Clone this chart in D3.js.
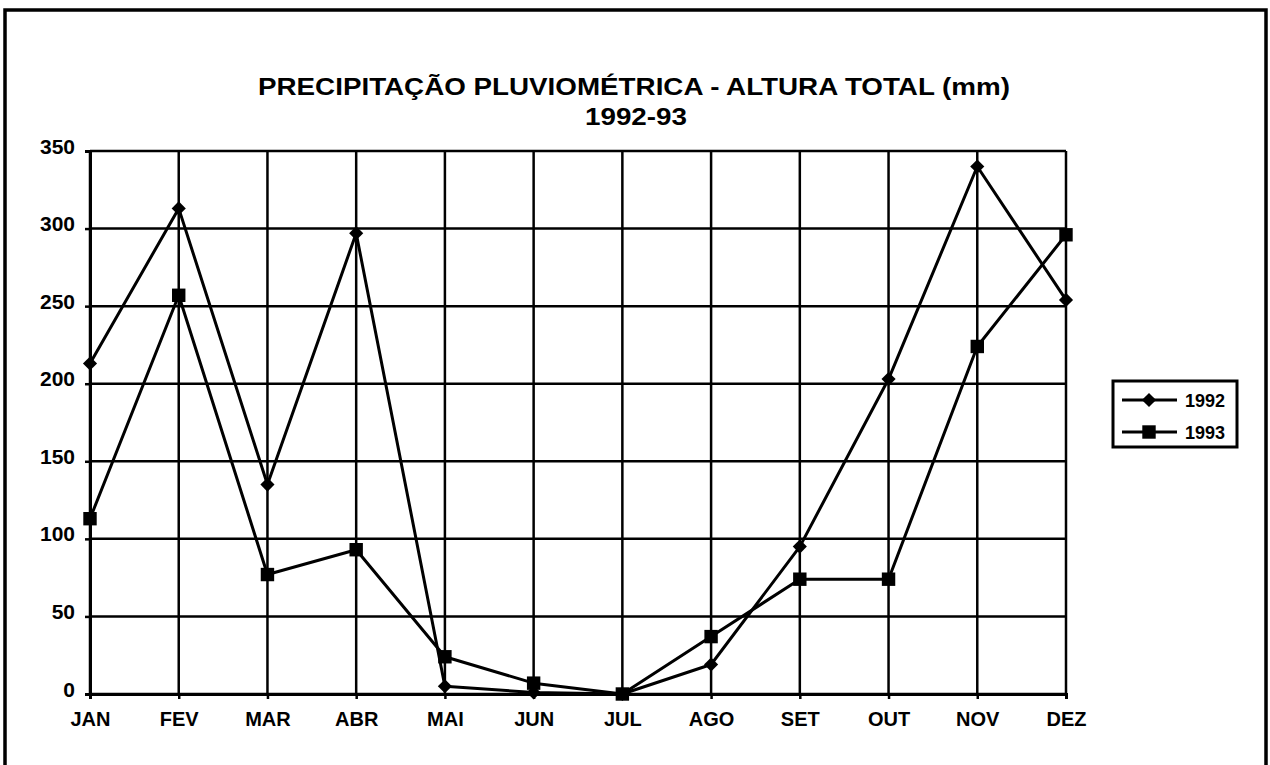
<!DOCTYPE html>
<html>
<head>
<meta charset="utf-8">
<script src="https://cdn.jsdelivr.net/npm/d3@7"></script>
<style>
  body { margin: 0; background: #fff; }
  text { font-family: "Liberation Sans", Arial, sans-serif; font-weight: bold; fill: #000; }
</style>
</head>
<body>
<div id="chart-container"></div>
<script>
var months = ['JAN', 'FEV', 'MAR', 'ABR', 'MAI', 'JUN', 'JUL', 'AGO', 'SET', 'OUT', 'NOV', 'DEZ'];
var values1992 = [213, 313, 135, 297, 5, 1, 0, 19, 95, 203, 340, 254];
var values1993 = [113, 257, 77, 93, 24, 7, 0, 37, 74, 74, 224, 296];
var yTicks = [0, 50, 100, 150, 200, 250, 300, 350];
var seriesNames = ['1992', '1993'];

var svgWidth = 1270,
    svgHeight = 765,
    svg = d3.select('#chart-container').append('svg').attr('width', svgWidth).attr('height', svgHeight),
    margin = { top: 151, right: 204, bottom: 71, left: 90 },
    width = svgWidth - margin.left - margin.right,
    height = svgHeight - margin.top - margin.bottom;

// outer frame (bottom edge is off the page)
svg.append('rect')
  .attr('x', 5).attr('y', 10)
  .attr('width', 1261).attr('height', 780)
  .attr('fill', 'none').attr('stroke', '#000').attr('stroke-width', 3.5);

svg.append('text')
  .attr('x', 634).attr('y', 95)
  .attr('text-anchor', 'middle')
  .attr('textLength', 752).attr('lengthAdjust', 'spacingAndGlyphs')
  .style('font-size', '24px')
  .text('PRECIPITAÇÃO PLUVIOMÉTRICA - ALTURA TOTAL (mm)');

svg.append('text')
  .attr('x', 636).attr('y', 125)
  .attr('text-anchor', 'middle')
  .attr('textLength', 102).attr('lengthAdjust', 'spacingAndGlyphs')
  .style('font-size', '24px')
  .text('1992-93');

var g = svg.append('g').attr('transform', 'translate(' + margin.left + ',' + margin.top + ')');

var x = d3.scalePoint().domain(months).range([0, width]);
var y = d3.scaleLinear().domain([0, 350]).range([height, 0]);

// grid
g.append('g').selectAll('line.h')
  .data(yTicks).enter().append('line')
  .attr('x1', 0).attr('x2', width)
  .attr('y1', function(d) { return y(d); }).attr('y2', function(d) { return y(d); })
  .attr('stroke', '#000').attr('stroke-width', 2.5);

g.append('g').selectAll('line.v')
  .data(months).enter().append('line')
  .attr('x1', function(d) { return x(d); }).attr('x2', function(d) { return x(d); })
  .attr('y1', 0).attr('y2', height)
  .attr('stroke', '#000').attr('stroke-width', 2.5);

var yAxis = g.append('g')
  .call(d3.axisLeft(y).tickValues(yTicks).tickSize(5).tickPadding(10));
yAxis.select('.domain').attr('stroke-width', 3);
yAxis.selectAll('.tick line').attr('stroke-width', 2.5);
yAxis.selectAll('text')
  .style('font-size', '21px').style('font-family', '"Liberation Sans", Arial, sans-serif')
  .attr('dy', '0.1em');

var xAxis = g.append('g')
  .attr('transform', 'translate(0,' + height + ')')
  .call(d3.axisBottom(x).tickSize(5).tickPadding(13));
xAxis.select('.domain').attr('stroke-width', 3);
xAxis.selectAll('.tick line').attr('stroke-width', 2.5);
xAxis.selectAll('text')
  .style('font-size', '20px').style('font-family', '"Liberation Sans", Arial, sans-serif');

var line = d3.line()
  .x(function(d, i) { return x(months[i]); })
  .y(function(d) { return y(d); });

var diamond = d3.symbol().type(d3.symbolSquare).size(100);
var square = d3.symbol().type(d3.symbolSquare).size(180);

g.append('path').datum(values1992)
  .attr('fill', 'none').attr('stroke', '#000').attr('stroke-width', 3)
  .attr('stroke-linejoin', 'round').attr('d', line);

g.append('path').datum(values1993)
  .attr('fill', 'none').attr('stroke', '#000').attr('stroke-width', 3)
  .attr('stroke-linejoin', 'round').attr('d', line);

g.selectAll('path.m92').data(values1992).enter().append('path')
  .attr('class', 'm92')
  .attr('transform', function(d, i) { return 'translate(' + x(months[i]) + ',' + y(d) + ') rotate(45)'; })
  .attr('d', diamond).attr('fill', '#000');

g.selectAll('path.m93').data(values1993).enter().append('path')
  .attr('class', 'm93')
  .attr('transform', function(d, i) { return 'translate(' + x(months[i]) + ',' + y(d) + ')'; })
  .attr('d', square).attr('fill', '#000');

// legend
var legend = svg.append('g').attr('transform', 'translate(1113,381)');
legend.append('rect')
  .attr('width', 124).attr('height', 66)
  .attr('fill', '#fff').attr('stroke', '#000').attr('stroke-width', 3);

var items = legend.selectAll('g.item').data(seriesNames).enter().append('g')
  .attr('transform', function(d, i) { return 'translate(0,' + (19 + i * 32) + ')'; });
items.append('line')
  .attr('x1', 9).attr('x2', 64).attr('y1', 0).attr('y2', 0)
  .attr('stroke', '#000').attr('stroke-width', 3);
items.append('path')
  .attr('transform', function(d, i) { return 'translate(36,0)' + (i === 0 ? ' rotate(45)' : ''); })
  .attr('d', function(d, i) { return i === 0 ? diamond() : square(); })
  .attr('fill', '#000');
items.append('text')
  .attr('x', 72).attr('y', 6.5)
  .style('font-size', '18px')
  .text(function(d) { return d; });
</script>
</body>
</html>
